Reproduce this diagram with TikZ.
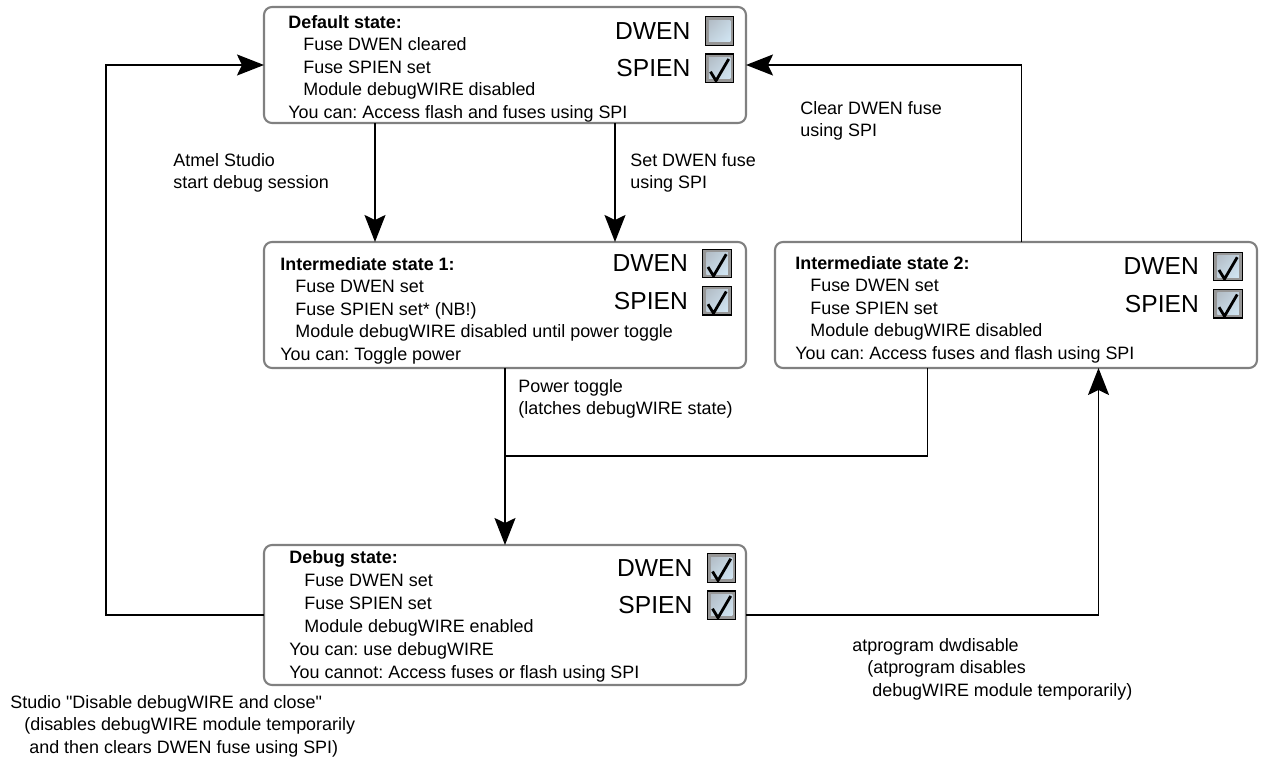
\documentclass[tikz,border=0pt]{standalone}
\usepackage{fontspec}
\setmainfont{Liberation Sans}[Ligatures=TeXOff]
\usepackage{tikz}
\usetikzlibrary{positioning}
\usetikzlibrary{arrows.meta, positioning, shadings}
\frenchspacing

\definecolor{framegray}{RGB}{128,128,128}
\definecolor{chkgray}{RGB}{150,150,150}
\definecolor{chktop}{RGB}{172,180,188}
\definecolor{chkmid}{RGB}{196,212,224}
\definecolor{chkbot}{RGB}{214,236,250}
\newcommand{\fuseind}{\hspace*{0.3cm}}
\newcommand{\chkface}{\shade[upper left=chktop, upper right=chkmid, lower left=chkmid, lower right=chkbot]
  ([shift={(0.07,0.07)}]path picture bounding box.south west) rectangle
  ([shift={(-0.07,-0.07)}]path picture bounding box.north east);}

\begin{document}
\begin{tikzpicture}[
      state/.style = {draw=framegray, line width=1.2pt, rounded corners=0.16cm,
                      minimum width=9.64cm, inner sep=0pt, outer sep=0pt},
       info/.style = {anchor=north west, inner sep=0pt, align=left,
                      font=\fontsize{10.2}{12.8}\selectfont},
        lbl/.style = {anchor=north west, inner sep=0pt, align=left,
                      font=\fontsize{10.2}{12.6}\selectfont},
       fuse/.style = {inner sep=0pt, font=\fontsize{14}{16}\selectfont},
     chkoff/.style = {draw, line width=0.7pt, fill=chkgray, minimum size=0.57cm,
                      inner sep=0pt, path picture={\chkface}},
      chkon/.style = {chkoff, path picture={\chkface
                      \draw[line width=1.6pt]
                        ([shift={(-0.18,-0.07)}]path picture bounding box.center) --
                        ([shift={(-0.07,-0.25)}]path picture bounding box.center) --
                        ([shift={(0.185,0.185)}]path picture bounding box.center);}},
       conn/.style = {line width=1.1pt,
                      -{Stealth[length=0.54cm, width=0.42cm, inset=0.1cm]}},
       wire/.style = {line width=1.1pt}]
  \useasboundingbox (0,0) rectangle (25.28,-15.28);

  % states
  \node[state, minimum height=2.32cm] (def) at (10.10,-1.30) {};
  \node[state, minimum height=2.52cm, below=2.38cm of def] (im1) {};
  \node[state, minimum height=2.52cm, right=0.58cm of im1] (im2) {};
  \node[state, minimum height=2.80cm, below=3.54cm of im1] (dbg) {};

  \node[info] (def-txt) at ([shift={(0.48,-0.16)}]def.north west)
    {\textbf{Default state:}\\\fuseind Fuse DWEN cleared\\\fuseind Fuse SPIEN set\\
     \fuseind Module debugWIRE disabled\\You can: Access flash and fuses using SPI};
  \node[info] (im1-txt) at ([shift={(0.32,-0.30)}]im1.north west)
    {\textbf{Intermediate state 1:}\\\fuseind Fuse DWEN set\\\fuseind Fuse SPIEN set* (NB!)\\
     \fuseind Module debugWIRE disabled until power toggle\\You can: Toggle power};
  \node[info] (im2-txt) at ([shift={(0.40,-0.28)}]im2.north west)
    {\textbf{Intermediate state 2:}\\\fuseind Fuse DWEN set\\\fuseind Fuse SPIEN set\\
     \fuseind Module debugWIRE disabled\\You can: Access fuses and flash using SPI};
  \node[info, font=\fontsize{10.2}{13.1}\selectfont] (dbg-txt) at ([shift={(0.50,-0.10)}]dbg.north west)
    {\textbf{Debug state:}\\\fuseind Fuse DWEN set\\\fuseind Fuse SPIEN set\\
     \fuseind Module debugWIRE enabled\\You can: use debugWIRE\\You cannot: Access fuses or flash using SPI};

  % fuse indicators
  \foreach \b/\dx/\dy/\dw in {def/-0.53/-0.48/chkoff, im1/-0.58/-0.43/chkon,
                              im2/-0.58/-0.49/chkon, dbg/-0.49/-0.46/chkon} {
    \node[\dw] (\b-dw) at ([shift={(\dx,\dy)}]\b.north east) {};
    \node[chkon, below=0.15cm of \b-dw] (\b-sp) {};
    \node[fuse, left=0.28cm of \b-dw] (\b-dwl) {DWEN};
    \node[fuse, left=0.28cm of \b-sp] (\b-spl) {SPIEN};
  }

  % transitions
  \coordinate (lft) at (2.12,0);
  \coordinate (jn) at (im1.south |- 0,-9.12);
  \draw[conn] (dbg.west) -- (dbg.west -| lft) |- (def.west);
  \draw[conn] ([xshift=-2.6cm]def.south) -- ([xshift=-2.6cm]im1.north);
  \draw[conn] ([xshift=2.2cm]def.south) -- ([xshift=2.2cm]im1.north);
  \draw[conn] ([xshift=0.11cm]im2.north) |- (def.east);
  \draw[conn] (im1.south) -- (dbg.north);
  \draw[wire] ([xshift=-1.77cm]im2.south) |- (jn);
  \draw[conn] (dbg.east) -| ([xshift=1.65cm]im2.south);

  \node[lbl] (lbl-start) at (3.46,-3.07) {Atmel Studio\\start debug session};
  \node[lbl] (lbl-set) at (12.60,-3.07) {Set DWEN fuse\\using SPI};
  \node[lbl] (lbl-clr) at (16.00,-2.03) {Clear DWEN fuse\\using SPI};
  \node[lbl] (lbl-pwr) at (10.36,-7.59) {Power toggle\\(latches debugWIRE state)};
  \node[lbl] (lbl-atp) at (17.04,-12.77)
    {atprogram dwdisable\\\hspace*{0.3cm}(atprogram disables\\\hspace*{0.4cm}debugWIRE module temporarily)};
  \node[lbl] (lbl-stu) at (0.20,-13.91)
    {Studio "Disable debugWIRE and close"\\\hspace*{0.28cm}(disables debugWIRE module temporarily\\\hspace*{0.38cm}and then clears DWEN fuse using SPI)};
\end{tikzpicture}
\end{document}
